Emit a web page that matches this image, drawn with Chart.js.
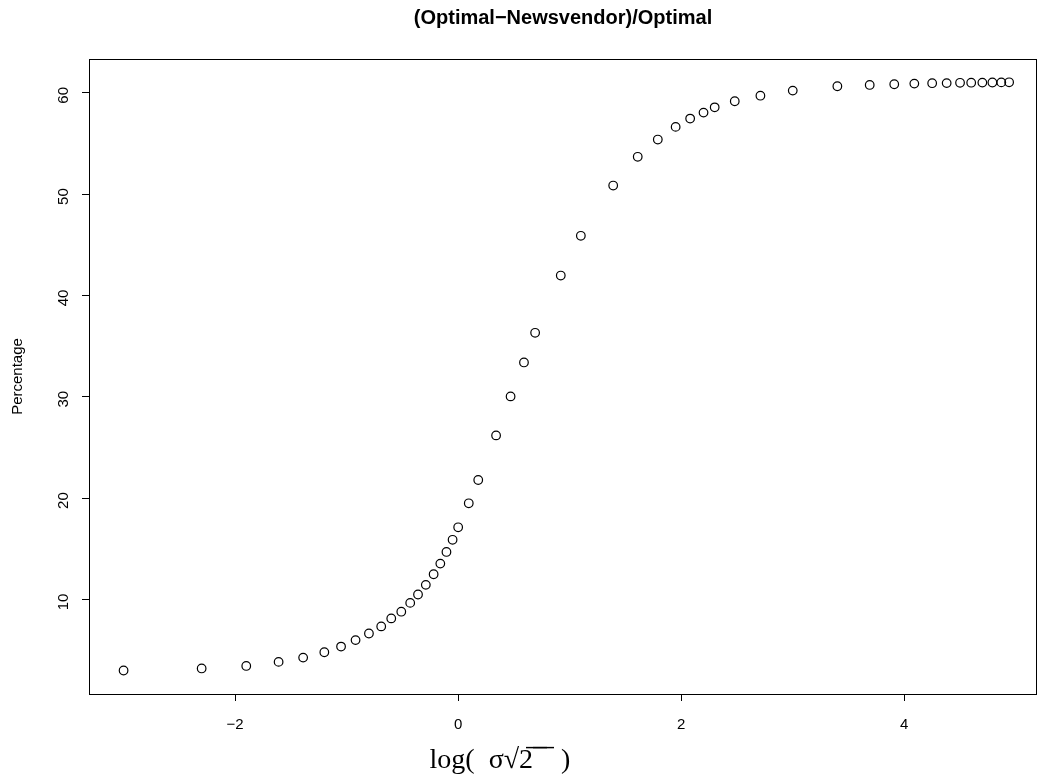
<!DOCTYPE html>
<html>
<head>
<meta charset="utf-8">
<script src="https://cdn.jsdelivr.net/npm/chart.js@4"></script>
<style>
  html, body { margin: 0; padding: 0; background: #fff; }
  #wrap { width: 1038px; height: 780px; }
</style>
</head>
<body>
<div id="wrap"><canvas id="newsvendorChart" width="1038" height="780"></canvas></div>
<script>
// x = log(sigma*sqrt(2))
const logSigma = [
  -3.00, -2.30, -1.90, -1.61, -1.39, -1.20, -1.05, -0.92, -0.80, -0.69,
  -0.60, -0.51, -0.43, -0.36, -0.29, -0.22, -0.16, -0.105, -0.05, 0.00,
  0.095, 0.18, 0.34, 0.47, 0.59, 0.69, 0.92, 1.10, 1.39, 1.61,
  1.79, 1.95, 2.08, 2.20, 2.30, 2.48, 2.71, 3.00, 3.40, 3.69,
  3.91, 4.09, 4.25, 4.38, 4.50, 4.60, 4.70, 4.79, 4.87, 4.94
];
// (Optimal-Newsvendor)/Optimal in percent
const percentage = [
  3.0, 3.2, 3.45, 3.85, 4.27, 4.8, 5.36, 6.0, 6.65, 7.35,
  8.14, 8.8, 9.67, 10.5, 11.45, 12.5, 13.55, 14.7, 15.9, 17.13,
  19.5, 21.8, 26.2, 30.05, 33.4, 36.33, 41.98, 45.9, 50.86, 53.7,
  55.4, 56.65, 57.47, 58.06, 58.58, 59.18, 59.73, 60.23, 60.66, 60.79,
  60.86, 60.92, 60.96, 60.97, 61.0, 61.01, 61.02, 61.03, 61.04, 61.05
];
const xTicks = [-2, 0, 2, 4];
const yTicks = [10, 20, 30, 40, 50, 60];

const points = logSigma.map((x, i) => ({ x: x, y: percentage[i] }));

// R風の枠線
const boxPlugin = {
  id: 'box',
  afterDraw(chart) {
    const a = chart.chartArea, c = chart.ctx;
    c.save();
    c.strokeStyle = '#000';
    c.lineWidth = 1;
    c.strokeRect(a.left + 0.5, a.top + 0.5, a.right - a.left - 1, a.bottom - a.top);
    c.restore();
  }
};

const minusFmt = v => (v < 0 ? '\u2212' + Math.abs(v) : String(v));

new Chart(document.getElementById('newsvendorChart'), {
  type: 'scatter',
  data: {
    datasets: [{
      data: points,
      pointStyle: 'circle',
      pointRadius: 4.3,
      pointBorderWidth: 1.2,
      pointBorderColor: '#000',
      pointBackgroundColor: 'rgba(0,0,0,0)'
    }]
  },
  options: {
    responsive: false,
    animation: false,
    events: [],
    layout: { autoPadding: false, padding: { left: 0, right: 1, top: 0, bottom: 0 } },
    plugins: {
      legend: { display: false },
      tooltip: { enabled: false },
      title: {
        display: true,
        fullSize: false,
        text: '(Optimal\u2212Newsvendor)/Optimal',
        color: '#000',
        font: { family: 'Liberation Sans', size: 20, weight: 'bold' },
        padding: { top: 6, bottom: 29 }
      }
    },
    scales: {
      x: {
        type: 'linear',
        min: -3.31,
        max: 5.19,
        afterBuildTicks: s => { s.ticks = xTicks.map(v => ({ value: v })); },
        afterFit: s => { s.height = 86; },
        grid: { display: true, drawOnChartArea: false, drawTicks: true, tickLength: 7, tickColor: '#000' },
        border: { display: false },
        ticks: {
          color: '#000',
          font: { family: 'Liberation Sans', size: 15 },
          padding: 15,
          maxRotation: 0,
          callback: minusFmt
        },
        title: {
          display: true,
          text: 'log(  \u03c3\u221a2\u0305 \u0305 \u0305  )\u2003\u2003\u2003\u2003  ',
          color: '#000',
          font: { family: 'Liberation Serif', size: 28 },
          padding: { top: 0, bottom: 3 }
        }
      },
      y: {
        type: 'linear',
        min: 0.68,
        max: 63.35,
        afterBuildTicks: s => { s.ticks = yTicks.map(v => ({ value: v })); },
        afterFit: s => { s.width = 89; },
        grid: { display: true, drawOnChartArea: false, drawTicks: true, tickLength: 7, tickColor: '#000' },
        border: { display: false },
        ticks: {
          color: '#000',
          font: { family: 'Liberation Sans', size: 15 },
          padding: 18,
          labelOffset: -6,
          minRotation: 90,
          maxRotation: 90,
          callback: minusFmt
        },
        title: {
          display: true,
          text: 'Percentage',
          color: '#000',
          font: { family: 'Liberation Sans', size: 15 },
          padding: { top: 9, bottom: 0 }
        }
      }
    }
  },
  plugins: [boxPlugin]
});
</script>
</body>
</html>
